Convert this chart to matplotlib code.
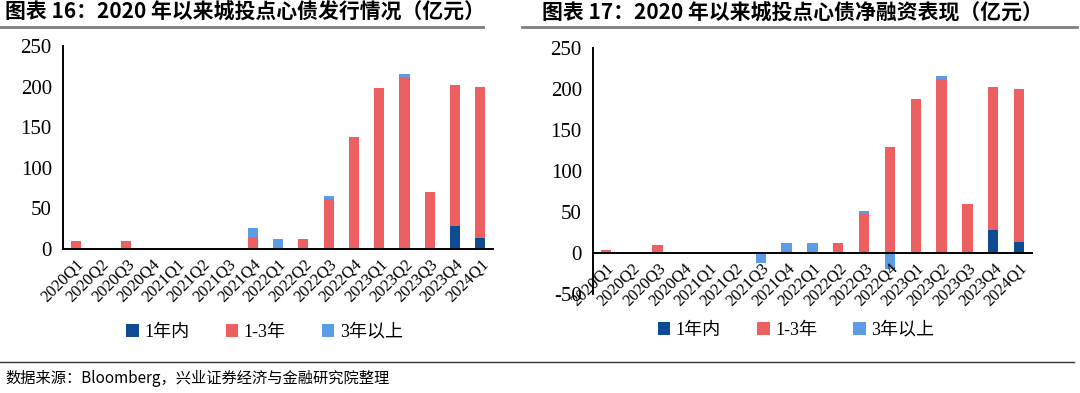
import matplotlib
matplotlib.use("Agg")
import matplotlib.pyplot as plt
from matplotlib.lines import Line2D
from matplotlib.patches import Patch
import numpy as np

# 季度
quarters = ["2020Q1", "2020Q2", "2020Q3", "2020Q4", "2021Q1", "2021Q2", "2021Q3",
            "2021Q4", "2022Q1", "2022Q2", "2022Q3", "2022Q4", "2023Q1", "2023Q2",
            "2023Q3", "2023Q4", "2024Q1"]

# 图表16：发行情况（亿元）
issue_1y = [0, 0, 0, 0, 0, 0, 0, 0, 0, 0, 0, 0, 0, 0, 0, 28, 14]
issue_1_3y = [10, 0, 10, 0, 0, 0, 0, 15, 0, 12, 62, 138, 198, 212, 70, 174, 186]
issue_3y = [0, 0, 0, 0, 0, 0, 0, 11, 12, 0, 3, 0, 0, 4, 0, 0, 0]

# 图表17：净融资表现（亿元）
net_1y = [0, 0, 0, 0, 0, 0, 0, 0, 0, 0, 0, 0, 0, 0, 0, 28, 14]
net_1_3y = [4, 0, 10, 0, 0, 0, 0, 2, 0, 12, 47, 129, 188, 212, 60, 174, 186]
net_3y = [0, 0, 0, 0, 0, 0, -12, 10, 12, 0, 4, -20, 0, 4, 0, 0, 0]

series_names = ["1年内", "1-3年", "3年以上"]
colors = ["#0D4C93", "#EE5F62", "#5C9CE4"]

serif = ["Liberation Serif", "DejaVu Serif", "Noto Sans CJK SC"]
plt.rcParams["font.family"] = serif
plt.rcParams["axes.linewidth"] = 1.4


def draw_stacked(ax, series, ylim, yticks):
    """正负分开堆叠的柱状图"""
    x = np.arange(len(quarters))
    pos = np.zeros(len(quarters))
    neg = np.zeros(len(quarters))
    for vals, color in zip(series, colors):
        vals = np.array(vals, dtype=float)
        bottom = np.where(vals >= 0, pos, neg)
        ax.bar(x, vals, width=0.4, bottom=bottom, color=color, linewidth=0)
        pos += np.where(vals >= 0, vals, 0)
        neg += np.where(vals < 0, vals, 0)
    # 先移动坐标轴，再设置刻度标签（否则旋转会被重置）
    ax.spines["top"].set_visible(False)
    ax.spines["right"].set_visible(False)
    ax.spines["bottom"].set_position(("data", 0))
    ax.set_xlim(-0.5, len(quarters) - 0.5)
    ax.set_ylim(*ylim)
    ax.set_yticks(yticks)
    ax.set_yticklabels([str(v) for v in yticks], fontsize=15, family=serif)
    ax.tick_params(axis="y", length=0, pad=8)
    ax.set_xticks(x)
    ax.set_xticklabels(quarters, rotation=45, ha="right", rotation_mode="anchor",
                       fontsize=12, family=serif)
    ax.tick_params(axis="x", length=0, pad=5)


fig = plt.figure(figsize=(10.8, 3.93), dpi=100)

ax1 = fig.add_axes([0.0583, 0.3664, 0.3982, 0.5166])
draw_stacked(ax1, [issue_1y, issue_1_3y, issue_3y], (0, 250), range(0, 251, 50))

ax2 = fig.add_axes([0.549, 0.2519, 0.4066, 0.626])
draw_stacked(ax2, [net_1y, net_1_3y, net_3y], (-50, 250), range(-50, 251, 50))

# 图例
handles = [Patch(facecolor=c, edgecolor="none") for c in colors]
for cx, cy in [(0.245, 0.155), (0.737, 0.160)]:
    fig.legend(handles, series_names, loc="center", bbox_to_anchor=(cx, cy),
               ncol=3, frameon=False, fontsize=13, handlelength=0.7,
               handleheight=0.7, handletextpad=0.3, columnspacing=2.0)

# 标题与分隔线
title_font = ["Noto Sans CJK SC", "DejaVu Sans"]
fig.text(0.005, 0.968, "图表 16：2020 年以来城投点心债发行情况（亿元）", fontsize=15,
         fontweight="bold", family=title_font, va="center", ha="left")
fig.text(0.502, 0.968, "图表 17：2020 年以来城投点心债净融资表现（亿元）", fontsize=15,
         fontweight="bold", family=title_font, va="center", ha="left")
fig.add_artist(Line2D([0.0, 0.447], [0.932, 0.932], color="#7F7F7F", lw=2))
fig.add_artist(Line2D([0.483, 0.997], [0.932, 0.932], color="#7F7F7F", lw=2))

fig.add_artist(Line2D([0.0, 0.994], [0.079, 0.079], color="#333333", lw=1))
fig.text(0.005, 0.038, "数据来源：Bloomberg，兴业证券经济与金融研究院整理", fontsize=11,
         family=title_font, va="center", ha="left")

fig.savefig("out.png", dpi=100)
